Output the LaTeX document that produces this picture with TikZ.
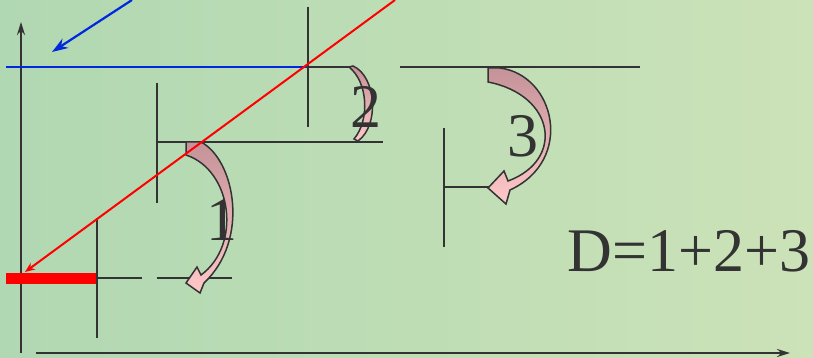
\documentclass[tikz,border=0pt]{standalone}
\usepackage{fontspec}
\setmainfont{Liberation Serif}
\usetikzlibrary{arrows.meta, positioning, calc}
\definecolor{cLine}{RGB}{51,51,51}
\definecolor{cBlue}{RGB}{0,40,220}
\definecolor{cRed}{RGB}{255,0,0}
\definecolor{cPinkDark}{RGB}{196,146,152}
\definecolor{cPinkLight}{RGB}{255,200,200}
\definecolor{cBgLeft}{RGB}{176,216,178}
\definecolor{cBgRight}{RGB}{204,226,184}
\tikzset{
	axis/.style={-{Stealth[length=13pt, width=8pt]}, line width=2pt, draw=cLine},
	rule/.style={line width=2pt, draw=cLine},
	bendarrow/.style={draw=cLine, line width=1.5pt, top color=cPinkDark, bottom color=cPinkLight},
	num/.style={font=\fontsize{62}{62}\selectfont, text=cLine, inner sep=0pt},
}

\begin{document}
\begin{tikzpicture}[x=1pt, y=-1pt]
	% background
	\shade[left color=cBgLeft, right color=cBgRight] (0,0) rectangle (813,358);
	\useasboundingbox (0,0) rectangle (813,358);

	% axes
	\coordinate (yBot) at (21,353);
	\coordinate (yTop) at (21,22);
	\coordinate (xLeft) at (36,353);
	\coordinate (xRight) at (790,353);
	\draw[axis] (yBot) -- (yTop);
	\draw[axis] (xLeft) -- (xRight);

	% blue line and arrow
	\coordinate (bStart) at (132,0);
	\coordinate (bTip) at (52,52);
	\draw[cBlue, line width=2.2pt, -{Stealth[length=16pt, width=11pt]}] (bStart) -- (bTip);
	\draw[cBlue, line width=2.2pt] (6,67) -- (307,67);

	% red bar
	\fill[cRed] (6,273) rectangle (97,284);

	% steps
	\draw[rule] (97,218) -- (97,338);
	\draw[rule] (97,278) -- (142,278);
	\draw[rule] (157,278) -- (232,278);
	\draw[rule] (157,83) -- (157,203);
	\draw[rule] (157,142) -- (383,142);
	\draw[rule] (308,7) -- (308,127);
	\draw[rule] (307,67) -- (353,67);
	\draw[rule] (400,67) -- (640,67);
	\draw[rule] (444,128) -- (444,247);
	\draw[rule] (444,187) -- (490,187);

	% curved arrows
	\path[bendarrow] (186,142) -- (201,142) .. controls (235,160) and (250,240) .. (204,283)
		-- (200,293) -- (186,283) -- (197,267) -- (201,275)
		.. controls (242,245) and (232,170) .. (186,155) -- cycle;
	\path[bendarrow] (353,66) .. controls (376,76) and (380,125) .. (358,141)
		-- (354,139) .. controls (370,120) and (368,82) .. (349,67) -- cycle;
	\path[bendarrow] (488,68) -- (500,68) .. controls (555,75) and (575,160) .. (510,190)
		-- (506,204) -- (488,188) -- (504,171) -- (508,181)
		.. controls (565,160) and (555,95) .. (488,82) -- cycle;

	% red line
	\coordinate (rStart) at (395,0);
	\coordinate (rTip) at (25,272);
	\draw[cRed, line width=2pt, -{Stealth[length=10pt, width=8pt]}] (rStart) -- (rTip);

	% labels
	\node[num] (one) at (222,220) {1};
	\node[num] (two) at (366,107) {2};
	\node[num] (three) at (523,136) {3};
	\node[num] (sum) at (689,251) {D=1+2+3};
\end{tikzpicture}
\end{document}
